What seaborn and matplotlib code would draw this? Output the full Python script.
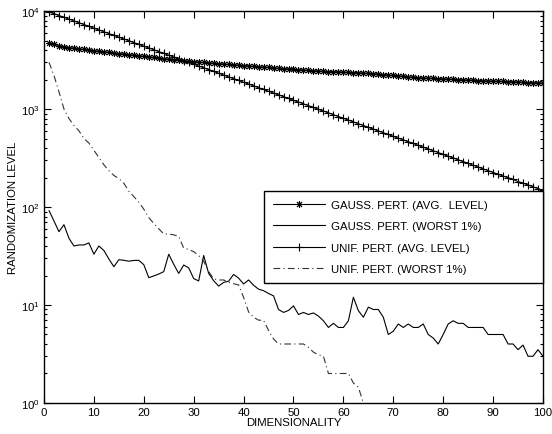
import matplotlib
matplotlib.use("Agg")
import matplotlib.pyplot as plt
import numpy as np
import pandas as pd
import seaborn as sns
from matplotlib.ticker import LogLocator, FixedLocator, NullFormatter

# ─── Data ────────────────────────────────────────────────────────────────────

dims = list(range(1, 101))

gauss_avg = [
    4700, 4570, 4450, 4335, 4240, 4170, 4110, 4055, 4000, 3945,
    3890, 3840, 3785, 3735, 3680, 3630, 3590, 3540, 3490, 3445,
    3405, 3360, 3310, 3275, 3230, 3190, 3155, 3120, 3085, 3050,
    3010, 2985, 2960, 2930, 2905, 2875, 2850, 2825, 2800, 2775,
    2750, 2720, 2700, 2675, 2655, 2630, 2605, 2585, 2565, 2540,
    2520, 2500, 2475, 2455, 2445, 2425, 2415, 2405, 2395, 2380,
    2370, 2355, 2345, 2330, 2310, 2295, 2275, 2250, 2225, 2205,
    2180, 2155, 2130, 2110, 2090, 2075, 2065, 2050, 2040, 2030,
    2020, 2010, 2000, 1985, 1975, 1970, 1955, 1945, 1935, 1930,
    1920, 1910, 1900, 1890, 1885, 1875, 1865, 1860, 1850, 1840,
]

gauss_worst = [
    92, 72, 56, 66, 48, 40, 41, 41, 43, 33,
    40, 36, 29.5, 24.6, 29, 28.6, 28, 28.5, 28.6, 25.8,
    19, 19.8, 20.7, 21.9, 33, 26, 21, 25.6, 23.9, 18.6,
    17.6, 32, 21, 17.7, 15.6, 17, 17.5, 20.5, 18.8, 16.4,
    18, 15.9, 14.5, 14, 13.1, 12.4, 9, 8.4, 8.8, 9.8,
    8, 8.4, 8, 8.3, 7.7, 6.9, 5.9, 6.5, 5.9, 5.9,
    6.9, 12, 8.75, 7.5, 9.5, 9, 9, 7.5, 5, 5.4,
    6.4, 5.9, 6.4, 5.9, 5.9, 6.4, 5, 4.6, 4, 5,
    6.4, 6.9, 6.5, 6.5, 5.9, 5.9, 5.9, 5.9, 5, 5,
    5, 5, 4, 4, 3.5, 3.9, 3, 3, 3.5, 3,
]

unif_avg = [
    9800, 9400, 9000, 8630, 8280, 7925, 7600, 7280, 6980, 6680,
    6410, 6150, 5890, 5650, 5410, 5190, 4980, 4760, 4570, 4380,
    4200, 4030, 3855, 3700, 3540, 3400, 3260, 3120, 2990, 2865,
    2750, 2635, 2525, 2420, 2320, 2225, 2130, 2040, 1960, 1875,
    1800, 1725, 1650, 1585, 1517, 1455, 1396, 1337, 1282, 1227,
    1178, 1130, 1081, 1038, 993, 953, 914, 875, 839, 804,
    771, 740, 708, 679, 650, 624, 598, 573, 550, 526,
    505, 484, 463, 445, 426, 408, 392, 375, 360, 344,
    330, 317, 303, 291, 279, 267, 256, 245, 235, 225,
    216, 207, 199, 191, 182, 175, 168, 161, 154, 148,
]

unif_worst_dims = list(range(1, 65))
unif_worst = [
    3000, 2200, 1500, 1000, 800, 680, 600, 500, 450, 380,
    320, 270, 235, 210, 195, 175, 145, 128, 112, 95,
    78, 68, 60, 53, 53, 52, 50, 38, 37, 35,
    32, 28, 22, 18.5, 18, 18, 17, 16.5, 16, 12,
    8.5, 7.5, 7, 7, 5.5, 4.5, 4, 4, 4, 4,
    4, 4, 3.7, 3.3, 3.1, 3, 2, 2, 2, 2,
    2, 1.6, 1.45, 1,
]

labels = [
    "GAUSS. PERT. (AVG.  LEVEL)",
    "GAUSS. PERT. (WORST 1%)",
    "UNIF. PERT. (AVG. LEVEL)",
    "UNIF. PERT. (WORST 1%)",
]

# ─── Figure ──────────────────────────────────────────────────────────────────

sns.set_style("ticks")
plt.rcParams["font.family"] = ["Liberation Sans", "DejaVu Sans"]
plt.rcParams["mathtext.fontset"] = "custom"
plt.rcParams["mathtext.rm"] = "Liberation Sans"
plt.rcParams["text.color"] = "black"
plt.rcParams["axes.labelcolor"] = "black"

FS = 8.2

fig = plt.figure(figsize=(5.52, 4.35), dpi=100)
ax = fig.add_axes([0.0797, 0.0713, 0.904, 0.901])

lw = 0.8
sns.lineplot(x=dims, y=gauss_avg, ax=ax, color="black", linewidth=lw,
             marker=(8, 2, 0), markersize=5, markeredgewidth=0.7,
             markeredgecolor="black", label=labels[0])
sns.lineplot(x=dims, y=gauss_worst, ax=ax, color="black", linewidth=lw,
             label=labels[1])
sns.lineplot(x=dims, y=unif_avg, ax=ax, color="black", linewidth=lw,
             marker="+", markersize=5.5, markeredgewidth=0.8,
             markeredgecolor="black", label=labels[2])
sns.lineplot(x=unif_worst_dims, y=unif_worst, ax=ax, color="#333333",
             linewidth=lw, linestyle=(0, (6, 3, 1, 3)), label=labels[3])

ax.set_yscale("log")
ax.set_xlim(0, 100)
ax.set_ylim(1, 1e4)
ax.xaxis.set_major_locator(FixedLocator(np.arange(0, 101, 10)))
ax.yaxis.set_major_locator(LogLocator(base=10, numticks=10))
ax.yaxis.set_minor_locator(LogLocator(base=10, subs=np.arange(2, 10), numticks=10))
ax.yaxis.set_minor_formatter(NullFormatter())

ax.tick_params(axis="both", which="both", direction="in", top=True, right=True,
               labelsize=FS, colors="black", width=0.8)
ax.tick_params(axis="both", which="major", length=5, pad=3)
ax.tick_params(axis="y", which="minor", length=2.5)
for sp in ax.spines.values():
    sp.set_color("black")
    sp.set_linewidth(1.0)

ax.set_xlabel("DIMENSIONALITY", fontsize=FS, labelpad=0)
ax.set_ylabel("RANDOMIZATION LEVEL", fontsize=FS, labelpad=2)

# legend box spans x=264..543 px, y=193..283 px in the reference
leg = ax.legend(loc="upper left", bbox_to_anchor=(0.441, 0.31, 0.559, 0.23),
                mode="expand", borderaxespad=0, fontsize=FS, frameon=True,
                fancybox=False, handlelength=4.6, labelspacing=1.0,
                borderpad=0.75, handletextpad=0.5, labelcolor="black")
leg.get_frame().set_edgecolor("black")
leg.get_frame().set_linewidth(1.0)
leg.get_frame().set_alpha(1)

fig.savefig("out.png", dpi=100)
